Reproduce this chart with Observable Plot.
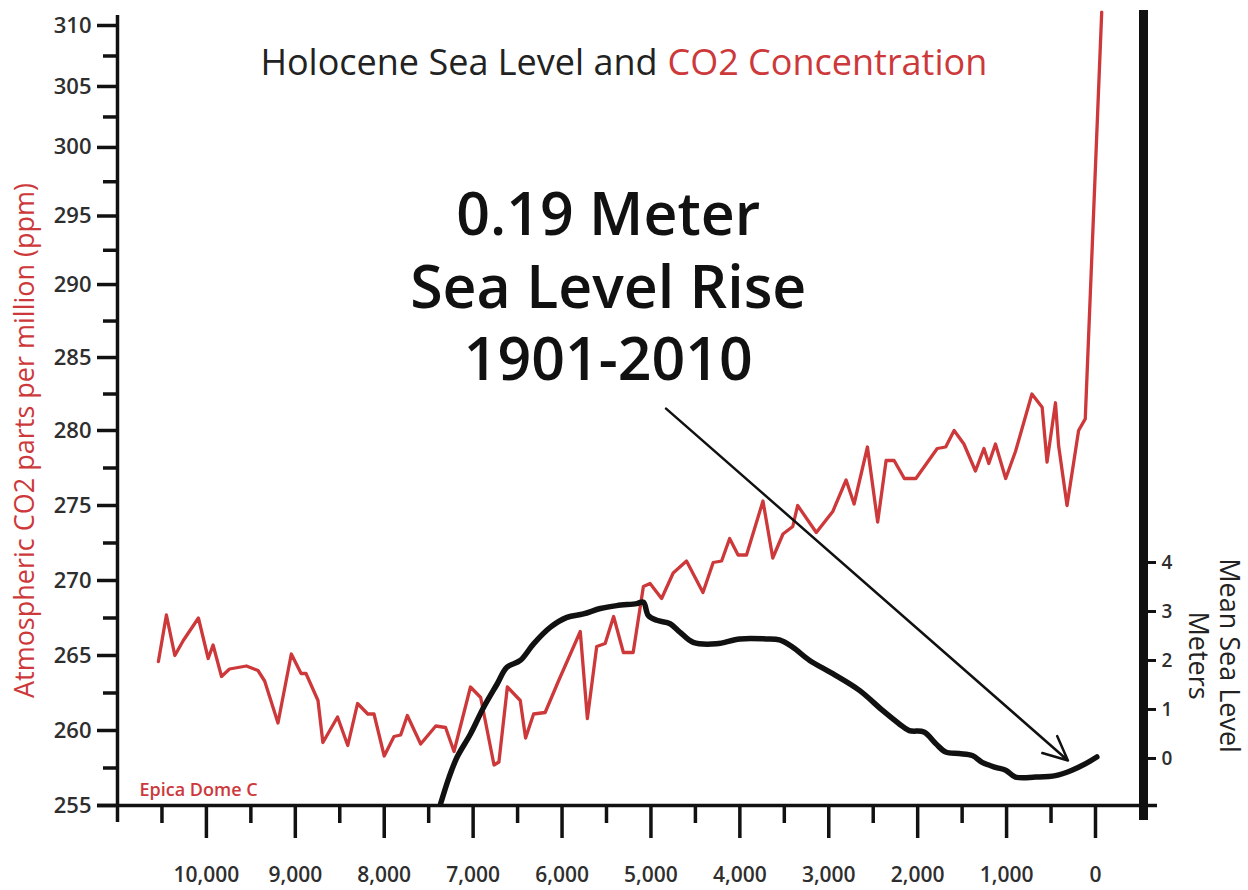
<!DOCTYPE html>
<html><head><meta charset="utf-8">
<script src="https://cdn.jsdelivr.net/npm/d3@7"></script>
<script src="https://cdn.jsdelivr.net/npm/@observablehq/plot@0.6"></script>
<style>
body{margin:0;background:#fff;}
#wrap{position:relative;width:1248px;height:890px;background:#fff;}
#wrap svg{position:absolute;left:0;top:0;}
</style></head><body><div id="wrap"></div>
<script>
// ---- data (years before present) ----
const co2Years = [10540, 10450, 10355, 10260, 10090, 9980, 9925, 9830, 9740, 9550,
  9420, 9345, 9195, 9045, 8935, 8880, 8745, 8690, 8525, 8410,
  8300, 8185, 8115, 8000, 7890, 7815, 7740, 7590, 7420, 7310,
  7215, 7030, 6915, 6765, 6710, 6615, 6470, 6410, 6320, 6190,
  6040, 5795, 5715, 5610, 5515, 5420, 5310, 5200, 5085, 5010,
  4880, 4750, 4600, 4415, 4300, 4205, 4115, 4020, 3925, 3740,
  3630, 3515, 3405, 3350, 3140, 2955, 2805, 2715, 2565, 2450,
  2355, 2265, 2150, 2020, 1780, 1685, 1590, 1480, 1350, 1255,
  1200, 1125, 1010, 900, 715, 600, 545, 450, 415, 320,
  190, 115, -70];
const co2Ppm = [264.6, 267.7, 265.0, 266.0, 267.5, 264.8, 265.7, 263.6, 264.1, 264.3,
  264.0, 263.3, 260.5, 265.1, 263.8, 263.8, 262.0, 259.2, 260.9, 259.0,
  261.8, 261.1, 261.1, 258.3, 259.6, 259.7, 261.0, 259.1, 260.3, 260.2,
  258.6, 262.9, 262.2, 257.7, 257.9, 262.9, 262.0, 259.5, 261.1, 261.2,
  263.3, 266.6, 260.8, 265.6, 265.8, 267.6, 265.2, 265.2, 269.6, 269.8,
  268.8, 270.5, 271.3, 269.2, 271.2, 271.3, 272.8, 271.7, 271.7, 275.3,
  271.5, 273.1, 273.6, 275.0, 273.2, 274.6, 276.7, 275.1, 278.9, 273.9,
  278.0, 278.0, 276.8, 276.8, 278.8, 278.9, 280.0, 279.1, 277.3, 278.8,
  277.8, 279.1, 276.8, 278.6, 282.5, 281.6, 277.9, 281.9, 279.0, 275.0,
  280.0, 280.8, 311.1];

const seaYears = [7365, 7270, 7180, 7030, 6880, 6730, 6620, 6470, 6320, 6130,
  5945, 5760, 5570, 5385, 5160, 5085, 5030, 4935, 4785, 4675,
  4525, 4265, 4000, 3705, 3555, 3405, 3215, 2955, 2655, 2395,
  2210, 2095, 1930, 1795, 1685, 1535, 1385, 1275, 1125, 1010,
  900, 675, 450, 265, 115, -15];
const seaMeters = [-0.92, -0.38, 0.03, 0.50, 1.05, 1.52, 1.86, 2.00, 2.34, 2.68,
  2.88, 2.95, 3.06, 3.12, 3.16, 3.19, 2.92, 2.82, 2.75, 2.58,
  2.37, 2.34, 2.44, 2.44, 2.42, 2.27, 2.00, 1.73, 1.39, 0.98,
  0.71, 0.57, 0.54, 0.30, 0.13, 0.10, 0.06, -0.08, -0.18, -0.24,
  -0.38, -0.38, -0.35, -0.24, -0.11, 0.03];

const co2Ticks = [255, 260, 265, 270, 275, 280, 285, 290, 295, 300, 305, 310];
const co2MinorTicks = [257.5, 262.5, 267.5, 272.5, 277.5, 282.5, 287.5, 292.5, 297.5, 302.5, 307.5];
const yearTicks = [10000, 9000, 8000, 7000, 6000, 5000, 4000, 3000, 2000, 1000, 0];
const yearMinorTicks = [10500, 9500, 8500, 7500, 6500, 5500, 4500, 3500, 2500, 1500, 500];
const seaTicks = [0, 1, 2, 3, 4];

const titleParts = ["Holocene Sea Level and", "CO2 Concentration"];
const annotationLines = ["0.19 Meter", "Sea Level Rise", "1901-2010"];
const annotationAt = [{year: 5480, ppm: 290}];
const arrowSpan = [{year1: 4830, ppm1: 281.5, year2: 310, ppm2: 258.0}];
const co2Label = "Atmospheric CO2 parts per million (ppm)";
const seaLabel = ["Mean Sea Level", "Meters"];
const seaLabelAt = 2.1;
const sourceLabel = "Epica Dome C";

const yearDomain = [11000, -540];
const co2Domain = [255, 310];
const seaDomain = [-0.96, 14.96];

// ---- build ----
const RED = "#cd383a";
const INK = "#111";
const co2Data = co2Years.map((year, i) => ({year, ppm: co2Ppm[i]}));
const seaData = seaYears.map((year, i) => ({year, m: seaMeters[i]}));
const font = "'Open Sans', 'Noto Sans', sans-serif";
const W = 1248, H = 890;
const margins = {marginLeft: 117, marginRight: 105, marginTop: 25, marginBottom: 85};

// the printed ppm axis is gently compressed toward its top; reproduce that spacing
const ppmWarp = d3.scaleLinear().domain([255, 280, 290, 300, 310]).range([255, 280, 289.73, 298.87, 307.0]);
const W_ = v => ppmWarp(v);
const ppmLabel = v => String(Math.round(ppmWarp.invert(v) * 2) / 2);

const co2Plot = Plot.plot({
  width: W, height: H, ...margins,
  style: {fontFamily: font, background: "transparent", overflow: "visible"},
  x: {domain: yearDomain},
  y: {domain: co2Domain.map(W_)},
  marks: [
    Plot.axisY({anchor: "left", ticks: co2MinorTicks.map(W_), tickSize: 14, tickFormat: () => "", label: null, stroke: INK, strokeWidth: 3.5}),
    Plot.axisY({anchor: "left", ticks: co2Ticks.map(W_), tickSize: 20, tickPadding: 6, tickFormat: ppmLabel, label: null,
      fontSize: 22, fontWeight: 600, fill: "#2e2e2e", stroke: INK, strokeWidth: 3.5}),
    Plot.axisX({anchor: "bottom", ticks: yearMinorTicks, tickSize: 18, tickFormat: () => "", label: null, stroke: INK, strokeWidth: 3.5}),
    Plot.axisX({anchor: "bottom", ticks: yearTicks, tickSize: 33, tickPadding: 29, tickFormat: d3.format(","), label: null,
      fontSize: 21, fontWeight: 600, fill: "#2e2e2e", stroke: INK, strokeWidth: 3.5}),
    Plot.ruleX([yearDomain[0]], {stroke: INK, strokeWidth: 3.5, insetTop: -10, insetBottom: -17}),
    Plot.ruleY([W_(co2Domain[0])], {stroke: INK, strokeWidth: 3.5, insetLeft: -20, insetRight: -14}),
    Plot.line(co2Data, {x: "year", y: d => W_(d.ppm), stroke: RED, strokeWidth: 3.3, strokeLinejoin: "round", strokeLinecap: "round"}),
    Plot.arrow(arrowSpan, {x1: "year1", y1: d => W_(d.ppm1), x2: "year2", y2: d => W_(d.ppm2), stroke: INK, strokeWidth: 2.5, headLength: 16, headAngle: 50}),
    Plot.text(annotationAt, {x: "year", y: d => W_(d.ppm), text: () => annotationLines.join("\n"), fontSize: 59, fontWeight: 600,
      lineHeight: 1.23, fill: INK, textAnchor: "middle", lineAnchor: "middle"}),
    Plot.text([titleParts[0]], {text: d => d, frameAnchor: "top", textAnchor: "end", dx: 27, dy: 24, fontSize: 36, fill: "#222"}),
    Plot.text([titleParts[1]], {text: d => d, frameAnchor: "top", textAnchor: "start", dx: 37, dy: 24, fontSize: 36, fill: RED}),
    Plot.text([co2Label], {text: d => d, frameAnchor: "left", textAnchor: "middle", lineAnchor: "middle", rotate: -90,
      dx: -92.6, dy: 25, fontSize: 27, fill: RED}),
    Plot.text([sourceLabel], {text: d => d, frameAnchor: "bottom-left", textAnchor: "start", lineAnchor: "bottom",
      dx: 22, dy: -10, fontSize: 18, fontWeight: 600, fill: RED})
  ]
});

const seaPlot = Plot.plot({
  width: W, height: H, ...margins,
  style: {fontFamily: font, background: "transparent", overflow: "visible"},
  x: {domain: yearDomain, axis: null},
  y: {domain: seaDomain},
  marks: [
    Plot.axisY({anchor: "right", ticks: seaTicks, tickSize: 12, tickPadding: 6, label: null,
      fontSize: 19, fontWeight: 600, fill: "#2e2e2e", stroke: INK, strokeWidth: 3}),
    Plot.ruleX([yearDomain[1]], {stroke: INK, strokeWidth: 9, insetTop: -15, insetBottom: -15}),
    Plot.line(seaData, {x: "year", y: "m", stroke: INK, strokeWidth: 5.5, strokeLinejoin: "round", strokeLinecap: "round", curve: "catmull-rom"}),
    Plot.text([seaLabel.join("\n")], {text: d => d, y: () => seaLabelAt, frameAnchor: "right", textAnchor: "middle", lineAnchor: "middle",
      rotate: 90, dx: 71, fontSize: 27, lineHeight: 1.15, fill: "#222"})
  ]
});

const wrap = document.getElementById("wrap");
wrap.appendChild(co2Plot);
wrap.appendChild(seaPlot);
</script>
</body></html>
